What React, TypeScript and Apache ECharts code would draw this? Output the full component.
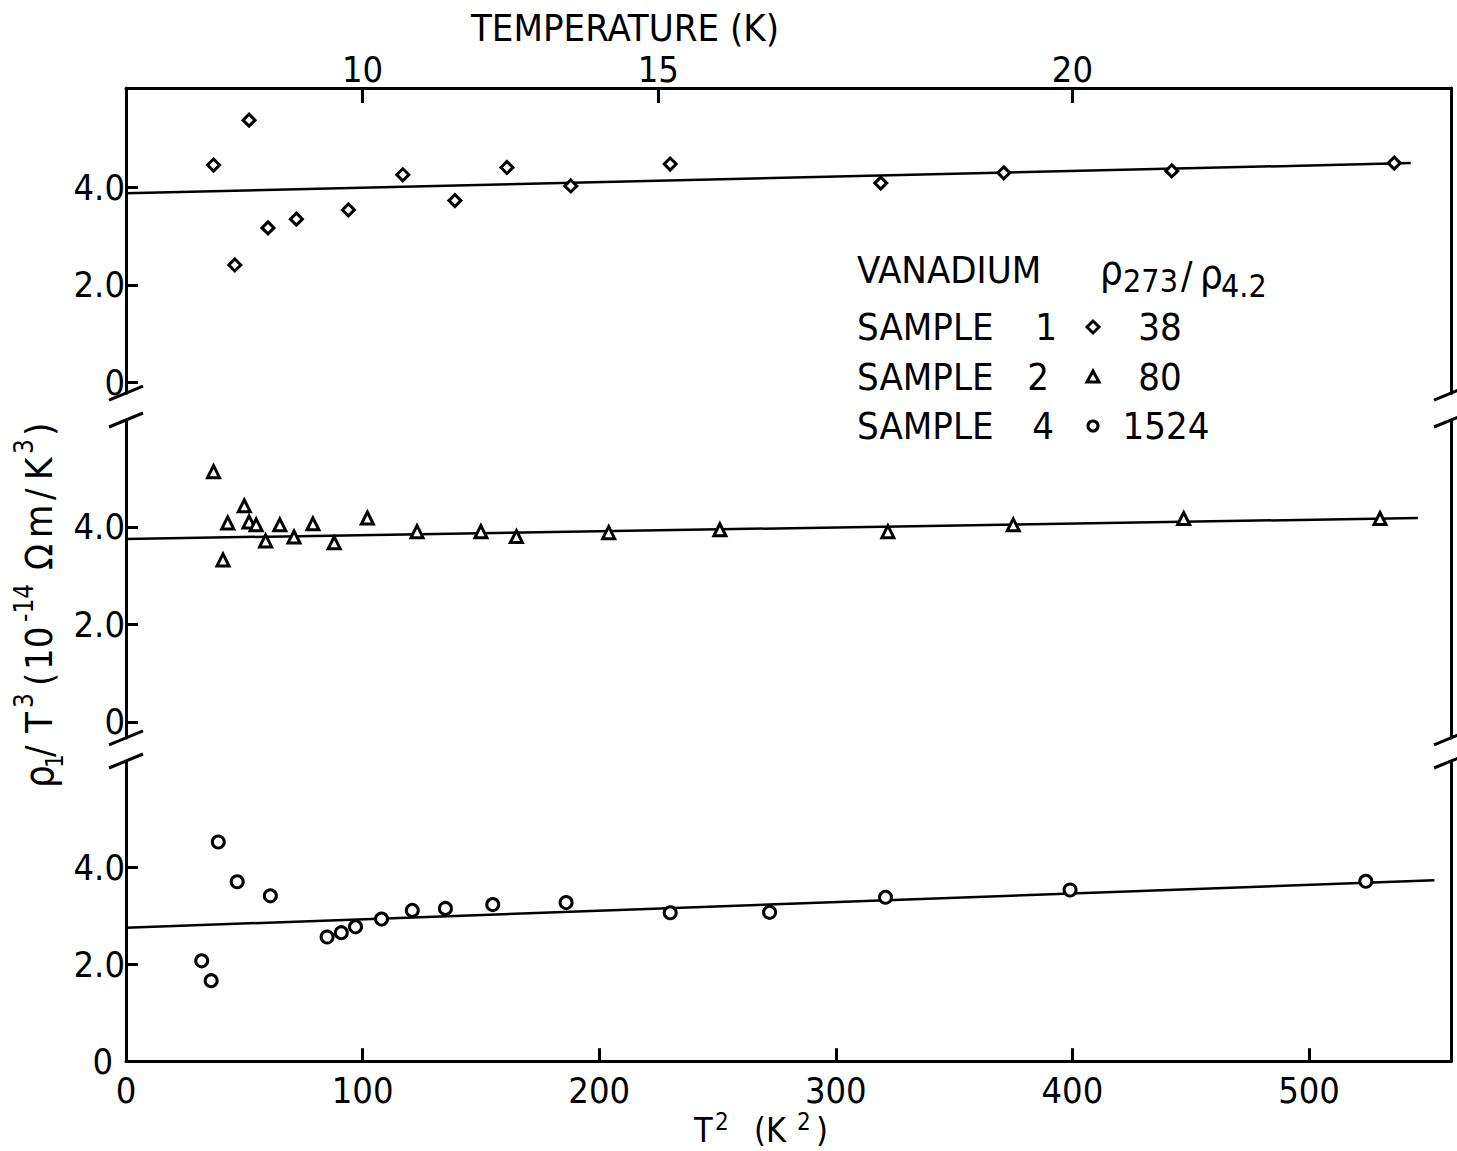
import React, { useEffect, useRef } from "react";
import * as echarts from "echarts";

// ---- data ----
const sample1T2 = [37, 52, 46, 60, 72, 94, 117, 139, 161, 188, 230, 319, 371, 442, 536];
const sample1Rho = [4.46, 5.38, 2.41, 3.17, 3.35, 3.54, 4.26, 3.73, 4.41, 4.03, 4.48, 4.09, 4.3, 4.34, 4.5];
const fit1 = [[0, 3.88], [543, 4.5]];

const sample2T2 = [37, 41, 43, 50, 52, 55, 59, 65, 71, 79, 88, 102, 123, 150, 165, 204, 251, 322, 375, 447, 530];
const sample2Rho = [5.13, 3.32, 4.08, 4.43, 4.1, 4.04, 3.71, 4.04, 3.79, 4.06, 3.67, 4.18, 3.9, 3.9, 3.8, 3.88, 3.94, 3.9, 4.04, 4.17, 4.17];
const fit2 = [[0, 3.75], [546, 4.18]];

const sample4T2 = [32, 36, 39, 47, 61, 85, 91, 97, 108, 121, 135, 155, 186, 230, 272, 321, 399, 524];
const sample4Rho = [2.07, 1.66, 4.52, 3.7, 3.41, 2.56, 2.65, 2.77, 2.93, 3.11, 3.15, 3.23, 3.27, 3.06, 3.07, 3.38, 3.53, 3.71];
const fit4 = [[0, 2.75], [553, 3.73]];

const bottomTicks = [100, 200, 300, 400, 500];
const bottomLabels = [0, 100, 200, 300, 400, 500];
const topTempTicks = [10, 15, 20]; // K
const yTicks = [0, 2, 4];

const legendRows = [
  { name: "SAMPLE", num: "1", ratio: "38", symbol: "diamond" },
  { name: "SAMPLE", num: "2", ratio: "80", symbol: "triangle" },
  { name: "SAMPLE", num: "4", ratio: "1524", symbol: "circle" },
];

const FONT = "'Liberation Sans Narrow', 'DejaVu Sans Condensed', 'Liberation Sans', Arial, sans-serif";
const INK = "#000";

export default function App() {
  const ref = useRef<HTMLDivElement>(null);

  useEffect(() => {
    const chart = echarts.init(ref.current!, null, { renderer: "svg" });

    const L = 126;
    const W = 1325;
    const grids = [
      { top: 88, height: 305.2, min: -0.22, max: 6.04 },
      { top: 420, height: 317.9, min: -0.33, max: 6.19 },
      { top: 761, height: 300.2, min: 0, max: 6.19 },
    ];
    const R = L + W;

    const lineStyle = { color: INK, width: 3 };

    const yAxes: any[] = [];
    grids.forEach((g, i) => {
      const last = i === 2;
      yAxes.push({
        gridIndex: i,
        type: "value",
        min: g.min,
        max: g.max,
        position: "left",
        axisLine: { show: true, onZero: false, lineStyle },
        axisTick: { show: true, inside: true, length: 12, customValues: yTicks, lineStyle },
        axisLabel: {
          show: true,
          customValues: yTicks,
          formatter: (v: number) => (v === 0 ? (last ? "{z|0}" : "0") : v.toFixed(1)),
          rich: { z: { padding: [0, 12, 0, 0], fontSize: 36, fontFamily: FONT, color: INK } },
          margin: 1,
          fontSize: 36,
          fontFamily: FONT,
          color: INK,
        },
        splitLine: { show: false },
      });
      yAxes.push({
        gridIndex: i,
        type: "value",
        min: g.min,
        max: g.max,
        position: "right",
        axisLine: { show: true, onZero: false, lineStyle },
        axisTick: { show: false },
        axisLabel: { show: false },
        splitLine: { show: false },
      });
    });

    const topT2 = topTempTicks.map((t) => t * t);

    const xAxes: any[] = [
      {
        gridIndex: 0,
        type: "value",
        min: 0,
        max: 560,
        position: "top",
        axisLine: { show: true, onZero: false, lineStyle },
        axisTick: { show: true, inside: true, length: 15, customValues: topT2, lineStyle },
        axisLabel: {
          show: true,
          customValues: topT2,
          formatter: (v: number) => String(Math.round(Math.sqrt(v))),
          margin: 1,
          fontSize: 36,
          fontFamily: FONT,
          color: INK,
        },
        splitLine: { show: false },
      },
      { gridIndex: 1, type: "value", min: 0, max: 560, show: false },
      {
        gridIndex: 2,
        type: "value",
        min: 0,
        max: 560,
        position: "bottom",
        axisLine: { show: true, onZero: false, lineStyle },
        axisTick: { show: true, inside: true, length: 13, customValues: bottomTicks, lineStyle },
        axisLabel: {
          show: true,
          customValues: bottomLabels,
          margin: 11,
          fontSize: 36,
          fontFamily: FONT,
          color: INK,
        },
        splitLine: { show: false },
      },
    ];

    const markerStyle = { color: "#fff", borderColor: INK, borderWidth: 3, opacity: 1 };
    const fitStyle = { color: INK, width: 2.5 };

    const zip = (a: number[], b: number[]) => a.map((x, i) => [x, b[i]]);

    const series: any[] = [
      { type: "line", xAxisIndex: 0, yAxisIndex: 0, data: fit1, symbol: "none", lineStyle: fitStyle, z: 1 },
      { type: "line", xAxisIndex: 1, yAxisIndex: 2, data: fit2, symbol: "none", lineStyle: fitStyle, z: 1 },
      { type: "line", xAxisIndex: 2, yAxisIndex: 4, data: fit4, symbol: "none", lineStyle: fitStyle, z: 1 },
      {
        type: "scatter", xAxisIndex: 0, yAxisIndex: 0, data: zip(sample1T2, sample1Rho),
        symbol: "diamond", symbolSize: 12, itemStyle: markerStyle, z: 3,
      },
      {
        type: "scatter", xAxisIndex: 1, yAxisIndex: 2, data: zip(sample2T2, sample2Rho),
        symbol: "triangle", symbolSize: 12, itemStyle: markerStyle, z: 3,
      },
      {
        type: "scatter", xAxisIndex: 2, yAxisIndex: 4, data: zip(sample4T2, sample4Rho),
        symbol: "circle", symbolSize: 12, itemStyle: markerStyle, z: 3,
      },
    ];

    // break marks
    const breakYs = [
      grids[0].top + grids[0].height,
      grids[1].top,
      grids[1].top + grids[1].height,
      grids[2].top,
    ];
    const graphics: any[] = [];
    breakYs.forEach((y) => {
      [L, R].forEach((x) => {
        graphics.push({
          type: "line",
          shape: { x1: x - 17, y1: y + 7, x2: x + 17, y2: y - 7 },
          style: { stroke: INK, lineWidth: 3 },
          z: 10,
        });
      });
    });

    const txt = (text: string, x: number, y: number, size: number, align = "left", extra: any = {}) => ({
      type: "text",
      x,
      y,
      z: 10,
      style: {
        text,
        fontSize: size,
        fontFamily: FONT,
        fill: INK,
        textAlign: align,
        textVerticalAlign: "middle",
        ...extra,
      },
    });

    // top title
    graphics.push(txt("TEMPERATURE (K)", 625, 28, 38, "center"));

    // bottom title T² (K²)
    graphics.push(txt("T", 694, 1130, 34));
    graphics.push(txt("2", 715, 1122, 24));
    graphics.push(txt("(K", 754, 1130, 34));
    graphics.push(txt("2", 797, 1122, 24));
    graphics.push(txt(")", 816, 1130, 34));

    // legend block
    graphics.push(txt("VANADIUM", 857, 270, 38));
    graphics.push(txt("ρ", 1100, 270, 40));
    graphics.push(txt("273", 1123, 281, 32));
    graphics.push(txt("/", 1181, 275, 38));
    graphics.push(txt("ρ", 1200, 274, 40));
    graphics.push(txt("4.2", 1221, 286, 32));

    const rowY = [327, 377, 426];
    const numX = [1046, 1038, 1043];
    legendRows.forEach((row, i) => {
      const y = rowY[i];
      graphics.push(txt(row.name, 857, y, 38));
      graphics.push(txt(row.num, numX[i], y, 38, "center"));
      graphics.push(txt(row.ratio, 1160 + (row.ratio.length > 2 ? 6 : 0), y, 38, "center"));
      const mx = 1093;
      const st = { fill: "#fff", stroke: INK, lineWidth: 3 };
      if (row.symbol === "diamond") {
        graphics.push({ type: "polygon", z: 10, shape: { points: [[mx, y - 6], [mx + 6, y], [mx, y + 6], [mx - 6, y]] }, style: st });
      } else if (row.symbol === "triangle") {
        graphics.push({ type: "polygon", z: 10, shape: { points: [[mx, y - 6], [mx + 6, y + 5], [mx - 6, y + 5]] }, style: st });
      } else {
        graphics.push({ type: "circle", z: 10, shape: { cx: mx, cy: y, r: 5 }, style: st });
      }
    });

    // rotated y-axis title: ρ1/T3(10-14 Ωm/K3)
    const yt = (text: string, u: number, v: number, size: number) => ({
      type: "text",
      x: u,
      y: v,
      style: { text, fontSize: size, fontFamily: FONT, fill: INK, textAlign: "left", textVerticalAlign: "middle" },
    });
    graphics.push({
      type: "group",
      x: 39,
      y: 788,
      rotation: Math.PI / 2,
      z: 10,
      children: [
        yt("ρ", 0, 0, 40),
        yt("1", 20, 16, 24),
        yt("/", 31, 0, 38),
        yt("T", 55, 0, 38),
        yt("3", 80, -15, 26),
        yt("(", 102, 0, 38),
        yt("10", 118, 0, 38),
        yt("-14", 166, -15, 26),
        yt("Ω", 218, 0, 38),
        yt("m", 250, 0, 38),
        yt("/", 288, 0, 38),
        yt("K", 308, 0, 38),
        yt("3", 334, -15, 26),
        yt(")", 352, 0, 38),
      ],
    });

    chart.setOption({
      animation: false,
      backgroundColor: "#fff",
      grid: grids.map((g) => ({ left: L, top: g.top, width: W, height: g.height })),
      xAxis: xAxes,
      yAxis: yAxes,
      series,
      graphic: graphics,
    });

    return () => chart.dispose();
  }, []);

  return (
    <div
      ref={ref}
      style={{ position: "absolute", left: 0, top: 0, width: 1457, height: 1151, background: "#fff" }}
    />
  );
}
